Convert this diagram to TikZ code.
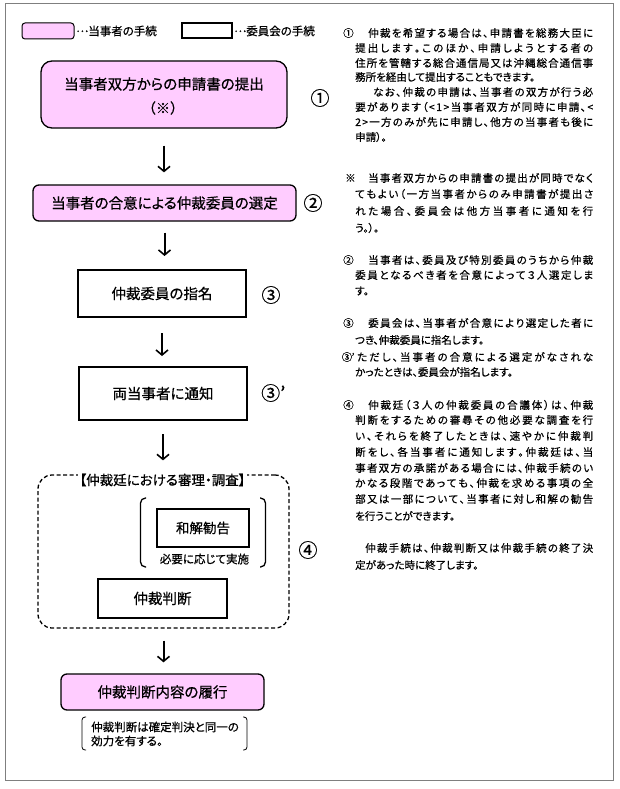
\documentclass[tikz,border=0pt]{standalone}
\usepackage{fontspec}
\setmainfont{Noto Sans CJK JP}[RawFeature=+palt,FakeBold=0.6]
\newfontfamily\jpf{Noto Sans CJK JP}[FakeBold=0.6]
\usetikzlibrary{arrows.meta}
\definecolor{pinkc}{HTML}{FFCCFF}
\definecolor{framec}{HTML}{7F7F7F}
\newcommand\spr[2]{\hbox to #1pt{\sprfirst#2\relax}}
\def\sprfirst#1{#1\sprrest}
\def\sprrest#1{\ifx#1\relax\else\hskip 0pt plus 1fil\relax #1\expandafter\sprrest\fi}
\newcommand\middots{\makebox[1.05em]{\raisebox{0.3em}{…}}}
\tikzset{
  pinkbox/.style={draw, line width=1.3pt, fill=pinkc, rounded corners=6pt, inner sep=0pt},
  whitebox/.style={draw, line width=2pt, fill=white, inner sep=0pt},
  arr/.style={line width=2pt, -{Straight Barb[length=5pt,width=12pt,line width=1.6pt]}},
  rtxt/.style={anchor=west, inner sep=0pt, font=\fontsize{10.5}{12}\selectfont},
  num/.style={inner sep=0pt, font=\fontsize{19}{22}\selectfont},
  boxtxt/.style={inner sep=0pt, font=\fontsize{14.5}{17}\selectfont},
  smalltxt/.style={inner sep=0pt, font=\fontsize{11.5}{13}\selectfont},
}
\begin{document}
\begin{tikzpicture}[x=1pt,y=-1pt]
\useasboundingbox (0,0) rectangle (620,789);
\draw[framec, line width=1pt] (5,4) rectangle (613,780);

% legend
\node[pinkbox, line width=1pt, rounded corners=3pt, minimum width=52pt, minimum height=16pt] (lg1) at (48,31) {};
\node[smalltxt, anchor=west] (lg1t) at (76,31) {\middots 当事者の手続};
\node[whitebox, line width=1.5pt, minimum width=50pt, minimum height=15pt] (lg2) at (207,30.5) {};
\node[smalltxt, anchor=west] (lg2t) at (234,31) {\middots 委員会の手続};

% flow boxes
\node[pinkbox, rounded corners=11pt, minimum width=246pt, minimum height=67pt] (b1) at (164,94.5) {};
\node[boxtxt] (b1a) at (164,84) {当事者双方からの申請書の提出};
\node[inner sep=0pt, font=\jpf\fontsize{14}{16}\selectfont] (b1b) at (163,108) {（※）};
\node[num] (n1) at (320,98) {①};

\node[pinkbox, minimum width=263pt, minimum height=36pt, boxtxt] (b2) at (164.5,203) {当事者の合意による仲裁委員の選定};
\node[num] (n2) at (313,203) {②};

\node[whitebox, minimum width=168pt, minimum height=47pt, boxtxt] (b3) at (162,293.5) {仲裁委員の指名};
\node[num] (n3) at (271,295) {③};

\node[whitebox, minimum width=168pt, minimum height=53pt, boxtxt] (b4) at (163,393.5) {両当事者に通知};
\node[num, anchor=west] (n3b) at (261,393) {③’};

% dashed area
\node[draw, dash pattern=on 4pt off 2.5pt, line width=1.3pt, rounded corners=14pt, minimum width=251pt, minimum height=153pt] (db) at (163.5,551.5) {};
\node[inner sep=2pt, fill=white, font=\fontsize{13.5}{16}\selectfont] (dbt) at (162.5,480) {【仲裁廷における審理・調査】};
\draw[line width=1.3pt, rounded corners=5pt] (146,498) -- (140.5,498) -- (140.5,567) -- (146,567);
\draw[line width=1.3pt, rounded corners=5pt] (260,498) -- (265.5,498) -- (265.5,567) -- (260,567);
\node[whitebox, minimum width=92pt, minimum height=38pt, inner sep=0pt, font=\fontsize{13.5}{16}\selectfont] (b5) at (203,528) {和解勧告};
\node[smalltxt] (b5n) at (204.5,559) {必要に応じて実施};
\node[whitebox, minimum width=129pt, minimum height=39pt, boxtxt] (b6) at (162.5,598.5) {仲裁判断};
\node[num] (n4) at (308,550) {④};

\node[pinkbox, minimum width=203pt, minimum height=36pt, boxtxt] (b7) at (162.5,692) {仲裁判断内容の履行};
\draw[line width=0.8pt, rounded corners=3pt] (86,717) -- (82,717) -- (82,750) -- (86,750);
\draw[line width=0.8pt, rounded corners=3pt] (243,717) -- (247,717) -- (247,750) -- (243,750);
\node[smalltxt, anchor=west] (b7a) at (91,727) {仲裁判断は確定判決と同一の};
\node[smalltxt, anchor=west] (b7b) at (91,741) {効力を有する。};

% arrows
\draw[arr, shorten <=17pt, shorten >=12pt] (b1.south) -- (b1.south |- b2.north);
\draw[arr, shorten <=11pt, shorten >=13pt] (b2.south) -- (b2.south |- b3.north);
\draw[arr, shorten <=15pt, shorten >=10pt] (b3.south) -- (b3.south |- b4.north);
\draw[arr, shorten <=13pt, shorten >=14pt] (b4.south) -- (b4.south |- db.north);
\draw[arr, shorten <=12pt, shorten >=11pt] (db.south) -- (db.south |- b7.north);

% right column text
\node[rtxt] (m1) at (343,33) {①};
\node[rtxt] (r1a) at (368,33) {\spr{225}{仲裁を希望する場合は、申請書を総務大臣に}};
\node[rtxt] (r1b) at (355,48) {\spr{238}{提出します。このほか、申請しようとする者の}};
\node[rtxt] (r1c) at (355,63) {\spr{238}{住所を管轄する総合通信局又は沖縄総合通信事}};
\node[rtxt] (r1d) at (355,77) {務所を経由して提出することもできます。};
\node[rtxt] (r1e) at (373,92) {\spr{220}{なお、仲裁の申請は、当事者の双方が行う必}};
\node[rtxt] (r1f) at (355,107) {\spr{238}{要があります（<1>当事者双方が同時に申請、<}};
\node[rtxt] (r1g) at (355,122) {\spr{238}{2>一方のみが先に申請し、他方の当事者も後に}};
\node[rtxt] (r1h) at (355,137) {申請）。};

\node[rtxt] (m2) at (345,178) {※};
\node[rtxt] (r2a) at (368,178) {\spr{225}{当事者双方からの申請書の提出が同時でなく}};
\node[rtxt] (r2b) at (355,194) {\spr{238}{てもよい（一方当事者からのみ申請書が提出さ}};
\node[rtxt] (r2c) at (355,211) {\spr{238}{れた場合、委員会は他方当事者に通知を行}};
\node[rtxt] (r2d) at (355,228) {う。）。};

\node[rtxt] (m3) at (343,260) {②};
\node[rtxt] (r3a) at (368,260) {\spr{225}{当事者は、委員及び特別委員のうちから仲裁}};
\node[rtxt] (r3b) at (355,275) {\spr{238}{委員となるべき者を合意によって３人選定しま}};
\node[rtxt] (r3c) at (355,291) {す。};

\node[rtxt] (m4) at (343,323) {③};
\node[rtxt] (r4a) at (368,323) {\spr{225}{委員会は、当事者が合意により選定した者に}};
\node[rtxt] (r4b) at (355,340) {つき、仲裁委員に指名します。};
\node[rtxt] (m5) at (341.5,357) {③\kern-0.5pt’};
\node[rtxt] (r4c) at (357,357) {\spr{236}{ただし、当事者の合意による選定がなされな}};
\node[rtxt] (r4d) at (355,372) {かったときは、委員会が指名します。};

\node[rtxt] (m6) at (343,405) {④};
\node[rtxt] (r5a) at (368,405) {\spr{225}{仲裁廷（３人の仲裁委員の合議体）は、仲裁}};
\node[rtxt] (r5b) at (355,420) {\spr{238}{判断をするための審尋その他必要な調査を行}};
\node[rtxt] (r5c) at (355,436) {\spr{238}{い、それらを終了したときは、速やかに仲裁判}};
\node[rtxt] (r5d) at (355,452) {\spr{238}{断をし、各当事者に通知します。仲裁廷は、当}};
\node[rtxt] (r5e) at (355,468) {\spr{238}{事者双方の承諾がある場合には、仲裁手続のい}};
\node[rtxt] (r5f) at (355,483) {\spr{238}{かなる段階であっても、仲裁を求める事項の全}};
\node[rtxt] (r5g) at (355,499) {\spr{238}{部又は一部について、当事者に対し和解の勧告}};
\node[rtxt] (r5h) at (355,516) {を行うことができます。};

\node[rtxt] (r6a) at (365,548) {\spr{228}{仲裁手続は、仲裁判断又は仲裁手続の終了決}};
\node[rtxt] (r6b) at (355,565) {定があった時に終了します。};
\end{tikzpicture}
\end{document}
